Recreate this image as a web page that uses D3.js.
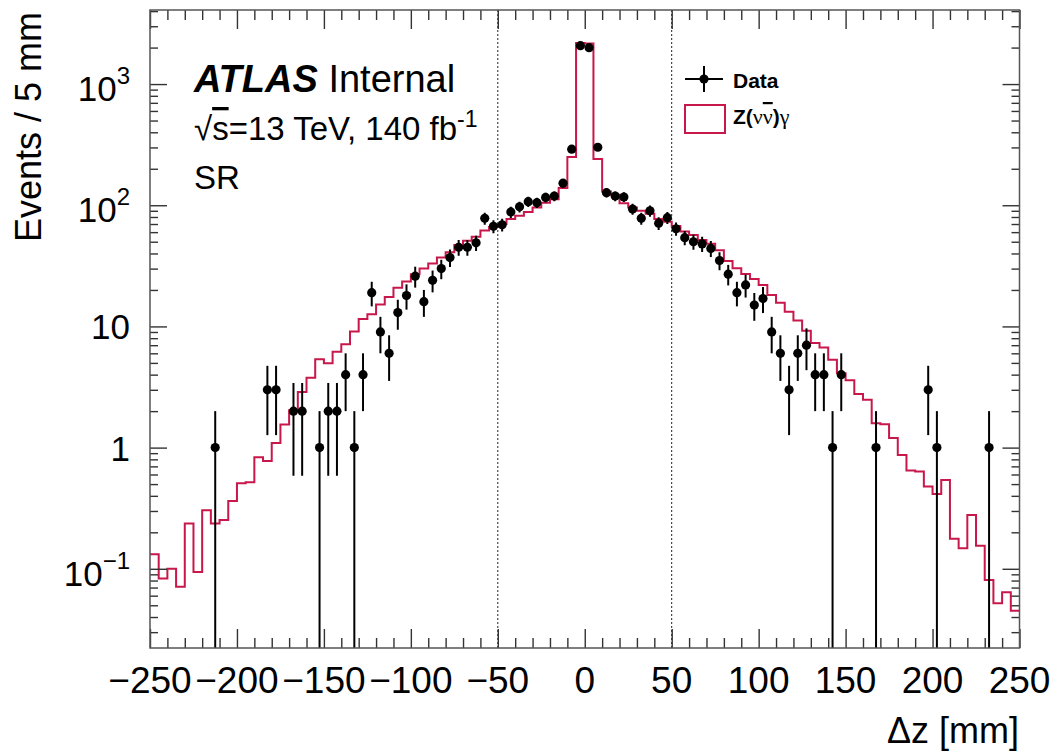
<!DOCTYPE html>
<html>
<head>
<meta charset="utf-8">
<script src="https://cdn.jsdelivr.net/npm/d3@7"></script>
<style>
  body { margin: 0; background: #fff; }
  svg text { font-family: "Liberation Sans", Arial, Helvetica, sans-serif; fill: #000; }
</style>
</head>
<body>
<script>
const width = 1054, height = 755;

// 5 mm bins from -250 to 250
const binLow = d3.range(-250, 250, 5);

// Z(nunu)gamma prediction, events per bin
const mcValues = [
    0.132, 0.083, 0.100, 0.071, 0.236, 0.094, 0.304, 0.236, 0.253, 0.363,
    0.508, 0.518, 0.833, 0.776, 1.09, 1.55, 2.03, 2.87, 3.78, 5.36,
    4.97, 6.19, 7.13, 9.06, 11.5, 12.6, 15.2, 17.5, 20.9, 23.5,
    27, 30, 33, 37, 41, 47, 51, 55, 62, 66,
    70, 77, 82, 88, 96, 105, 112, 139, 250, 2180,
    2160, 241, 130, 122, 104, 96, 90, 85, 77, 73,
    67.5, 60.6, 56.9, 51.7, 48, 42.5, 34.6, 30.2, 27.1, 24.6,
    22.0, 18.2, 15.7, 13.2, 11.2, 9.2, 7.3, 6.7, 5.3, 4.1,
    3.6, 2.77, 2.48, 1.59, 1.56, 1.2, 0.87, 0.646, 0.634, 0.477,
    0.415, 0.541, 0.177, 0.148, 0.278, 0.155, 0.081, 0.052, 0.064, 0.045
];

// observed events per bin
const dataCounts = [
    0, 0, 0, 0, 0, 0, 0, 1, 0, 0,
    0, 0, 0, 3, 3, 0, 2, 2, 0, 1,
    2, 2, 4, 1, 4, 19, 9, 6, 13, 18,
    26, 16, 24, 30, 37, 45, 45, 49, 78, 67,
    69, 88, 97, 107, 105, 116, 119, 152, 290, 2074,
    1996, 301, 127, 119, 117, 93, 78, 90, 71, 79,
    64, 54, 50, 48, 44, 35, 27, 19, 22, 15,
    17, 9, 6, 3, 6, 7, 4, 4, 1, 4,
    0, 0, 0, 1, 0, 0, 0, 0, 0, 3,
    1, 0, 0, 0, 0, 0, 1, 0, 0, 0
];

const xTickValues = [-250, -200, -150, -100, -50, 0, 50, 100, 150, 200, 250];
const yTickLabels = [
    {v: 0.1, base: '10', exp: '\u22121'},
    {v: 1, base: '1', exp: ''},
    {v: 10, base: '10', exp: ''},
    {v: 100, base: '10', exp: '2'},
    {v: 1000, base: '10', exp: '3'}
];
const srLines = [-50, 50];

const red = '#c8174a';
const serif = '"Liberation Serif", "DejaVu Serif", serif';

const svg = d3.select('body').append('svg')
    .attr('width', width)
    .attr('height', height);

const x = d3.scaleLinear()
    .domain([-250, 250])
    .range([150, 1019.5]);

const y = d3.scaleLog()
    .domain([0.0222, 4085])
    .range([648, 10]);

const [x0, x1] = x.range();
const [y1, y0] = y.range();

svg.append('clipPath').attr('id', 'frame')
    .append('rect')
    .attr('x', x0).attr('y', y0)
    .attr('width', x1 - x0).attr('height', y1 - y0);

// dotted signal region boundaries
svg.append('g')
    .selectAll('line')
    .data(srLines)
    .enter().append('line')
    .attr('x1', d => x(d)).attr('x2', d => x(d))
    .attr('y1', y0).attr('y2', y1)
    .attr('stroke', '#222')
    .attr('stroke-width', 1)
    .attr('stroke-dasharray', '2,2');

// MC histogram as step outline
const histPts = binLow.map((lo, i) => [lo, mcValues[i]]);
histPts.push([250, mcValues[mcValues.length - 1]]);

const step = d3.line()
    .x(d => x(d[0]))
    .y(d => y(d[1]))
    .curve(d3.curveStepAfter);

svg.append('path')
    .datum(histPts)
    .attr('clip-path', 'url(#frame)')
    .attr('d', step)
    .attr('fill', 'none')
    .attr('stroke', red)
    .attr('stroke-width', 2);

// data with sqrt(N) errors
const pts = binLow.map((lo, i) => ({c: lo + 2.5, n: dataCounts[i]})).filter(d => d.n > 0);

const gData = svg.append('g').attr('clip-path', 'url(#frame)');
gData.selectAll('line')
    .data(pts)
    .enter().append('line')
    .attr('x1', d => x(d.c)).attr('x2', d => x(d.c))
    .attr('y1', d => y(d.n + Math.sqrt(d.n)))
    .attr('y2', d => {
        const lo = d.n - Math.sqrt(d.n);
        return lo > y.domain()[0] ? y(lo) : y1 + 2;
    })
    .attr('stroke', '#000')
    .attr('stroke-width', 2);

gData.selectAll('circle')
    .data(pts)
    .enter().append('circle')
    .attr('cx', d => x(d.c))
    .attr('cy', d => y(d.n))
    .attr('r', 4.6)
    .attr('fill', '#000');

// ticks on all four sides, pointing inward
const minorX = d3.range(-250, 251, 10).filter(v => v % 50 !== 0);
const minorY = y.ticks().filter(v => Math.abs(Math.log10(v) - Math.round(Math.log10(v))) > 1e-6);
const majorY = yTickLabels.map(d => d.v);

function tickAxis(axis, vals, size, tx, ty) {
    svg.append('g')
        .attr('transform', `translate(${tx},${ty})`)
        .call(axis.tickValues(vals).tickSize(size).tickFormat(''))
        .call(g => g.select('.domain').remove())
        .selectAll('line').attr('stroke', '#333').attr('stroke-width', 1.4);
}
tickAxis(d3.axisBottom(x), xTickValues, -19, 0, y1);
tickAxis(d3.axisBottom(x), minorX, -10, 0, y1);
tickAxis(d3.axisTop(x), xTickValues, -19, 0, y0);
tickAxis(d3.axisTop(x), minorX, -10, 0, y0);
tickAxis(d3.axisLeft(y), majorY, -17, x0, 0);
tickAxis(d3.axisLeft(y), minorY, -8, x0, 0);
tickAxis(d3.axisRight(y), majorY, -17, x1, 0);
tickAxis(d3.axisRight(y), minorY, -8, x1, 0);

svg.append('rect')
    .attr('x', x0).attr('y', y0)
    .attr('width', x1 - x0).attr('height', y1 - y0)
    .attr('fill', 'none')
    .attr('stroke', '#555')
    .attr('stroke-width', 1.5);

// tick labels
svg.append('g')
    .selectAll('text')
    .data(xTickValues)
    .enter().append('text')
    .attr('x', d => x(d))
    .attr('y', 693)
    .attr('text-anchor', 'middle')
    .style('font-size', '37px')
    .text(d => d3.format('d')(d));

const yl = svg.append('g')
    .selectAll('text')
    .data(yTickLabels)
    .enter().append('text')
    .attr('x', 130)
    .attr('y', d => y(d.v) + (d.exp ? 17 : 13))
    .attr('text-anchor', 'end')
    .style('font-size', '35px');
yl.append('tspan').text(d => d.base);
yl.filter(d => d.exp).append('tspan')
    .attr('dy', -17)
    .style('font-size', '24px')
    .text(d => d.exp);

// axis titles
svg.append('text')
    .attr('transform', 'translate(41,12) rotate(-90)')
    .attr('text-anchor', 'end')
    .style('font-size', '36px')
    .text('Events / 5 mm');

svg.append('text')
    .attr('x', 1019)
    .attr('y', 743)
    .attr('text-anchor', 'end')
    .style('font-size', '36px')
    .text('\u0394z [mm]');

// ATLAS label block
const atlas = svg.append('text')
    .attr('x', 194).attr('y', 92)
    .style('font-size', '38px');
atlas.append('tspan').style('font-weight', 'bold').style('font-style', 'italic').text('ATLAS');
atlas.append('tspan').text(' Internal');

const lumi = svg.append('text')
    .attr('x', 194).attr('y', 140)
    .style('font-size', '33px');
lumi.append('tspan').text('\u221A');
lumi.append('tspan').style('text-decoration', 'overline').text('s');
lumi.append('tspan').text('=13 TeV, 140 fb');
lumi.append('tspan').attr('dy', -13).style('font-size', '23px').text('-1');

svg.append('text')
    .attr('x', 194).attr('y', 189)
    .style('font-size', '33px')
    .text('SR');

// legend
const lg = svg.append('g');
lg.append('line').attr('x1', 685).attr('x2', 723).attr('y1', 79).attr('y2', 79)
    .attr('stroke', '#000').attr('stroke-width', 2);
lg.append('line').attr('x1', 704).attr('x2', 704).attr('y1', 66).attr('y2', 92)
    .attr('stroke', '#000').attr('stroke-width', 2);
lg.append('circle').attr('cx', 704).attr('cy', 79).attr('r', 4.6).attr('fill', '#000');
lg.append('text').attr('x', 733).attr('y', 88)
    .style('font-size', '21px').style('font-weight', 'bold').text('Data');

lg.append('rect').attr('x', 685).attr('y', 105).attr('width', 40).attr('height', 28)
    .attr('fill', '#fff').attr('stroke', red).attr('stroke-width', 2);
const zt = lg.append('text').attr('x', 733).attr('y', 124).style('font-size', '21px');
zt.append('tspan').style('font-weight', 'bold').text('Z(');
zt.append('tspan').style('font-family', serif).style('font-size', '22px').text('\u03BD');
zt.append('tspan').style('font-family', serif).style('font-size', '22px')
    .style('text-decoration', 'overline').text('\u03BD');
zt.append('tspan').style('font-weight', 'bold').text(')');
zt.append('tspan').style('font-family', serif).style('font-size', '22px').text('\u03B3');
</script>
</body>
</html>
